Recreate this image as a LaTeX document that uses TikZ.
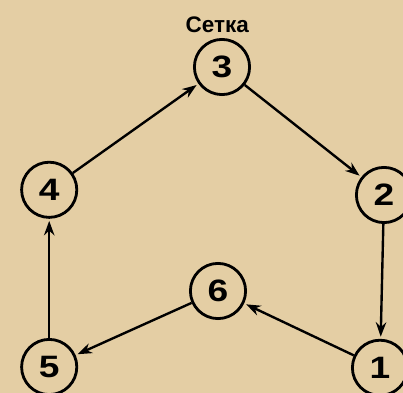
\documentclass[tikz,border=0pt]{standalone}
\usepackage{fontspec}
\setmainfont{Liberation Sans}
\newfontfamily\digitfont[FakeStretch=1.2]{Liberation Sans}
\usetikzlibrary{arrows.meta}
\definecolor{paper}{RGB}{228,206,164}

\tikzstyle{arrow} = [line width=1.7pt,->,>={Stealth[length=3.6mm,width=2.6mm]},shorten >=1.5pt]
\tikzstyle{vertex} = [
        circle,
        minimum size=1.38cm,
        inner sep=0pt,
        line width=2pt,
        draw=black,
        font=\digitfont\bfseries\fontsize{22}{22}\selectfont
    ]

\begin{document}
\begin{tikzpicture}
        \fill [paper] (0,0) rectangle (10.075,9.825);
        \useasboundingbox (0,0) rectangle (10.075,9.825);
        \node [vertex] (v3) at (5.55,8.15) {3};
        \node [font=\bfseries\fontsize{16}{16}\selectfont] (title) at (5.43,9.2) {Сетка};
        \node [vertex] (v2) at (9.6,4.95) {2};
        \node [vertex] (v4) at (1.23,5.08) {4};
        \node [vertex] (v6) at (5.45,2.55) {6};
        \node [vertex] (v1) at (9.5,0.63) {1};
        \node [vertex] (v5) at (1.23,0.65) {5};
        \draw [arrow] (v4) -- (v3);
        \draw [arrow] (v3) -- (v2);
        \draw [arrow] (v2) -- (v1);
        \draw [arrow] (v1) -- (v6);
        \draw [arrow] (v6) -- (v5);
        \draw [arrow] (v5) -- (v4);
    \end{tikzpicture}
\end{document}
